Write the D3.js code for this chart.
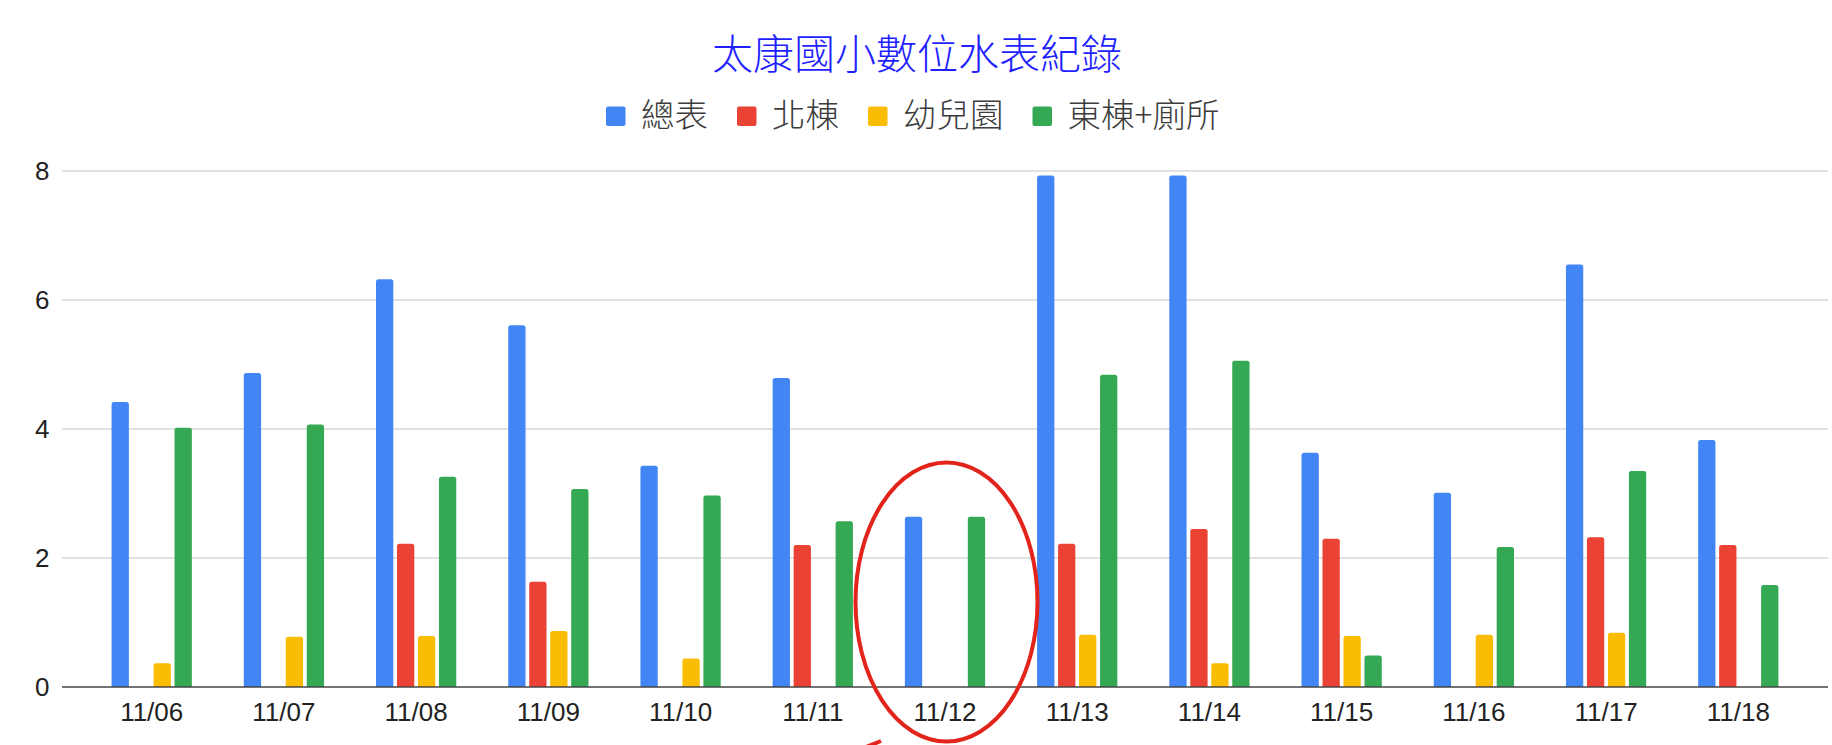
<!DOCTYPE html>
<html>

<head>
    <meta charset="utf-8">
    <style>
        body {
            margin: 0;
            background: #fff;
        }

        svg {
            display: block;
        }

        .title {
            font-family: "Noto Sans CJK TC", "Noto Sans CJK SC", sans-serif;
            font-size: 41px;
            font-weight: 300;
            fill: #1f1fff;
        }

        .legend text {
            font-family: "Noto Sans CJK TC", "Noto Sans CJK SC", sans-serif;
            font-size: 33.5px;
            font-weight: 300;
            fill: #3c3c3c;
        }

        .tick-label {
            font-family: "Liberation Sans", Arial, sans-serif;
            font-size: 26px;
            fill: #222;
        }
    </style>
</head>

<body>
    <svg width="1832" height="745"></svg>
</body>

<script src="https://d3js.org/d3.v7.min.js"></script>

<script>
    // values
    let dates = ["11/06", "11/07", "11/08", "11/09", "11/10", "11/11", "11/12",
        "11/13", "11/14", "11/15", "11/16", "11/17", "11/18"]

    let seriesNames = ["總表", "北棟", "幼兒園", "東棟+廁所"]

    let total = [4.42, 4.87, 6.32, 5.61, 3.43, 4.79, 2.64, 7.93, 7.93, 3.63, 3.01, 6.55, 3.83]
    let north = [0, 0, 2.22, 1.63, 0, 2.20, 0, 2.22, 2.45, 2.30, 0, 2.32, 2.20]
    let kinder = [0.37, 0.78, 0.79, 0.87, 0.44, 0, 0, 0.81, 0.37, 0.79, 0.81, 0.84, 0]
    let eastToilet = [4.02, 4.07, 3.26, 3.07, 2.97, 2.57, 2.64, 4.84, 5.06, 0.49, 2.17, 3.35, 1.58]

    let yTicks = [0, 2, 4, 6, 8]
    let colors = ["#4285f4", "#ea4335", "#fbbc04", "#34a853"]

    let titleText = "太康國小數位水表紀錄"

    let plotLeft = 62, plotRight = 1828, plotTop = 171, plotBottom = 687

    let svg = d3.select("svg")

    let allSeries = [total, north, kinder, eastToilet]

    let x0 = d3.scaleBand()
        .domain(dates)
        .range([plotLeft, plotRight])
        .paddingInner(0.393)
        .paddingOuter(0.375)

    let x1 = d3.scaleBand()
        .domain(seriesNames)
        .range([0, x0.bandwidth()])
        .paddingInner(0.176)

    let y = d3.scaleLinear()
        .domain([0, 8])
        .range([plotBottom, plotTop])

    // gridlines
    svg.append("g")
        .selectAll("line")
        .data(yTicks.filter(d => d != 0))
        .join("line")
        .attr("x1", plotLeft)
        .attr("x2", plotRight)
        .attr("y1", d => y(d))
        .attr("y2", d => y(d))
        .style("stroke", "#d7d7d7")
        .style("stroke-width", 1.4)

    // y labels
    svg.append("g")
        .selectAll("text")
        .data(yTicks)
        .join("text")
        .attr("class", "tick-label")
        .attr("x", 49.5)
        .attr("y", d => y(d))
        .attr("dy", "0.35em")
        .attr("text-anchor", "end")
        .text(d => d)

    // bars with rounded tops
    function topRounded(x, yTop, w, h, r) {
        r = Math.min(r, h, w / 2)
        return `M${x},${yTop + h}V${yTop + r}Q${x},${yTop} ${x + r},${yTop}H${x + w - r}Q${x + w},${yTop} ${x + w},${yTop + r}V${yTop + h}Z`
    }

    let barData = []
    dates.forEach((d, i) => {
        seriesNames.forEach((s, j) => {
            let v = allSeries[j][i]
            if (v > 0) barData.push({ date: d, series: s, value: v, color: colors[j] })
        })
    })

    svg.append("g")
        .selectAll("path")
        .data(barData)
        .join("path")
        .attr("d", d => topRounded(x0(d.date) + x1(d.series), y(d.value), x1.bandwidth(), y(0) - y(d.value), 2.5))
        .style("fill", d => d.color)

    // baseline
    svg.append("line")
        .attr("x1", plotLeft)
        .attr("x2", plotRight)
        .attr("y1", y(0))
        .attr("y2", y(0))
        .style("stroke", "#444")
        .style("stroke-width", 1.6)

    // x labels
    svg.append("g")
        .selectAll("text")
        .data(dates)
        .join("text")
        .attr("class", "tick-label")
        .attr("x", d => x0(d) + x0.bandwidth() / 2)
        .attr("y", 721)
        .attr("text-anchor", "middle")
        .text(d => d)

    // title
    svg.append("text")
        .attr("class", "title")
        .attr("x", 917)
        .attr("y", 69)
        .attr("text-anchor", "middle")
        .text(titleText)

    // legend
    let legend = svg.append("g").attr("class", "legend")
    let lx = 606
    seriesNames.forEach((s, j) => {
        legend.append("rect")
            .attr("x", lx)
            .attr("y", 106.5)
            .attr("width", 19.5)
            .attr("height", 19.5)
            .attr("rx", 2)
            .style("fill", colors[j])
        let t = legend.append("text")
            .attr("x", lx + 35)
            .attr("y", 127)
            .text(s)
        lx = lx + 35 + t.node().getComputedTextLength() + 29
    })

    // hand-drawn red circle around 11/12
    let markCx = x0("11/12") + x0.bandwidth() / 2
    svg.append("ellipse")
        .attr("cx", markCx + 1.5)
        .attr("cy", 602)
        .attr("rx", 91)
        .attr("ry", 139.5)
        .style("fill", "none")
        .style("stroke", "#e3241b")
        .style("stroke-width", 4)

    // tip of the red arrow at the bottom edge
    svg.append("line")
        .attr("x1", markCx - 79)
        .attr("y1", 747)
        .attr("x2", markCx - 64)
        .attr("y2", 741)
        .style("stroke", "#e3241b")
        .style("stroke-width", 4)
</script>

</html>
